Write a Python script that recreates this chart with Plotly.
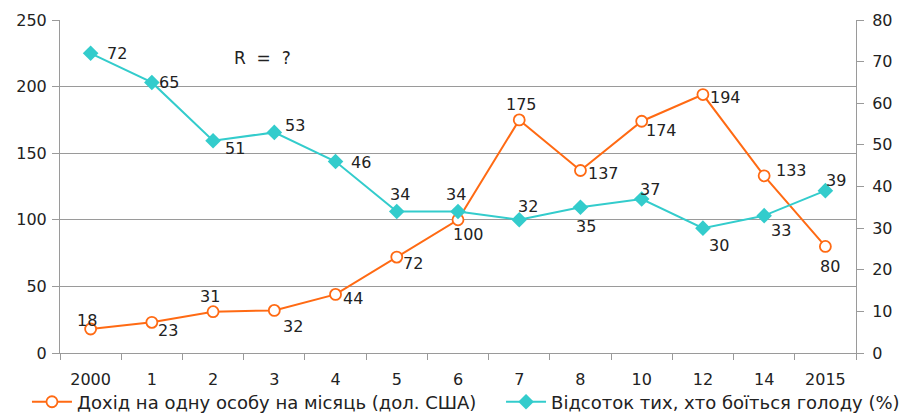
import plotly.graph_objects as go

years = ["2000", "1", "2", "3", "4", "5", "6", "7", "8", "10", "12", "14", "2015"]
income = [18, 23, 31, 32, 44, 72, 100, 175, 137, 174, 194, 133, 80]
hunger = [72, 65, 51, 53, 46, 34, 34, 32, 35, 37, 30, 33, 39]

income_name = "Дохід на одну особу на місяць (дол. США)"
hunger_name = "Відсоток тих, хто боїться голоду (%)"

# label offsets in pixels (dx right, dy down) — styling only
income_off = [(-4, -9), (16, 8), (-3, -15), (19, 16), (17, 4), (16, 6), (10, 15),
              (2, -15), (23, 3), (20, 9), (23, 3), (27, -5), (5, 20)]
hunger_off = [(26, 0), (17, 0), (22, 8), (21, -7), (25, 1), (3, -17), (-2, -17),
              (9, -13), (6, 19), (8, -9), (16, 17), (17, 15), (11, -10)]

ORANGE = "#FF6A13"
CYAN = "#33CCCC"
FONT = "DejaVu Sans"
TXT = "#222222"
GRID = "#9a9a9a"
FS = 16

# page body has an 8px margin, so the figure is 903x405 and margins compensate
W, H = 903, 405

fig = go.Figure()
fig.add_trace(go.Scatter(
    x=years, y=income, name=income_name, mode="lines+markers",
    line=dict(color=ORANGE, width=2),
    marker=dict(symbol="circle", size=11, color="white", line=dict(color=ORANGE, width=1.8)),
    yaxis="y", legend="legend"))
fig.add_trace(go.Scatter(
    x=years, y=hunger, name=hunger_name, mode="lines+markers",
    line=dict(color=CYAN, width=2),
    marker=dict(symbol="diamond", size=12, color=CYAN),
    yaxis="y2", legend="legend2"))

anns = []
for i, (yv, (dx, dy)) in enumerate(zip(income, income_off)):
    anns.append(dict(x=i, y=yv, xref="x", yref="y", text=str(yv), showarrow=False,
                     xshift=dx, yshift=-dy, font=dict(family=FONT, size=FS, color=TXT)))
for i, (yv, (dx, dy)) in enumerate(zip(hunger, hunger_off)):
    anns.append(dict(x=i, y=yv, xref="x", yref="y2", text=str(yv), showarrow=False,
                     xshift=dx, yshift=-dy, font=dict(family=FONT, size=FS, color=TXT)))
anns.append(dict(x=0.255, y=0.886, xref="paper", yref="paper", text="R  =  ?",
                 xanchor="center", yanchor="middle",
                 showarrow=False, font=dict(family=FONT, size=17, color=TXT)))

leg_common = dict(orientation="h", xanchor="left", xref="container",
                  y=0.027, yanchor="middle", yref="container",
                  font=dict(family=FONT, size=18, color=TXT), itemwidth=40,
                  bgcolor="rgba(0,0,0,0)")

fig.update_layout(
    width=W, height=H,
    margin=dict(l=52, r=55, t=12, b=60, autoexpand=False),
    paper_bgcolor="white", plot_bgcolor="white",
    font=dict(family=FONT, size=FS, color=TXT),
    showlegend=True,
    legend=dict(x=0.021, **leg_common),
    legend2=dict(x=0.546, **leg_common),
    xaxis=dict(type="category", tickson="boundaries", ticks="outside", ticklen=6,
               tickcolor=GRID, showline=True, linecolor=GRID, linewidth=1,
               showgrid=False, tickfont=dict(size=FS), range=[-0.5, 12.5],
               ticklabelstandoff=12),
    yaxis=dict(range=[0, 250], dtick=50, ticks="outside", ticklen=7, tickcolor=GRID,
               showline=True, linecolor=GRID, showgrid=True, gridcolor=GRID,
               gridwidth=1, zeroline=False, tickfont=dict(size=FS), ticklabelstandoff=2),
    yaxis2=dict(range=[0, 80], dtick=10, overlaying="y", side="right", ticks="outside",
                ticklen=7, tickcolor=GRID, showline=True, linecolor=GRID,
                showgrid=False, zeroline=False, tickfont=dict(size=FS), ticklabelstandoff=5),
    annotations=anns,
)

fig.write_html("out.html")
